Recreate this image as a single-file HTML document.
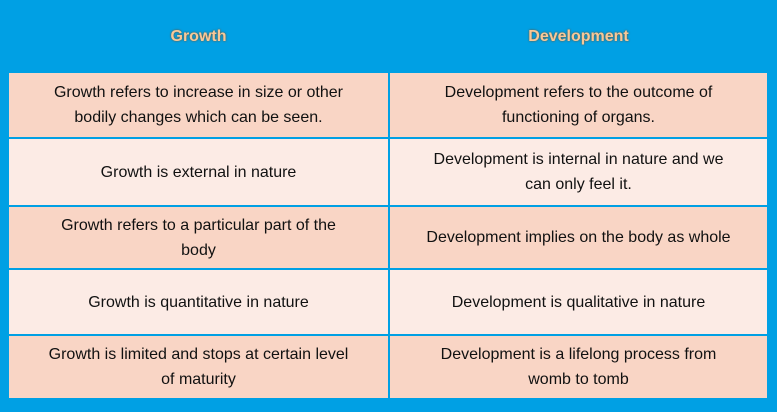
<!DOCTYPE html>
<html><head><meta charset="utf-8"><style>
body{margin:0;width:777px;height:412px;background:#00a0e4;font-family:"Liberation Sans",sans-serif;position:relative;overflow:hidden}
.h{position:absolute;top:28px;height:22px;font-weight:bold;font-size:16px;color:#f8c898;text-align:center;text-shadow:0 0 2px #7a4a20}
.c{position:absolute;display:flex;align-items:center;justify-content:center;text-align:center;font-size:16px;line-height:25px;color:#111;box-sizing:border-box;padding:0 4px;white-space:pre-line}
.o{background:#f9d5c5}.e{background:#fcebe5}
</style></head><body>
<div class="h" style="left:9px;width:379px">Growth</div>
<div class="h" style="left:390px;width:377px">Development</div>
<div id="rows"></div>
<script>
const growth=["Growth refers to increase in size or other\nbodily changes which can be seen.","Growth is external in nature","Growth refers to a particular part of the\nbody","Growth is quantitative in nature","Growth is limited and stops at certain level\nof maturity"];
const development=["Development refers to the outcome of\nfunctioning of organs.","Development is internal in nature and we\ncan only feel it.","Development implies on the body as whole","Development is qualitative in nature","Development is a lifelong process from\nwomb to tomb"];
const tops=[73,139,207,270,336],bots=[137,205,268,334,398];
const root=document.getElementById('rows');
growth.forEach((g,i)=>{
 [[g,9,379,'growth'],[development[i],390,377,'development']].forEach(([t,l,w,n])=>{
  const d=document.createElement('div');
  d.className='c '+(i%2?'e':'o');
  d.style.left=l+'px';d.style.width=w+'px';d.style.top=tops[i]+'px';d.style.height=(bots[i]-tops[i])+'px';
  d.textContent=t;
  
  
  root.appendChild(d);
 });
});
</script>
</body></html>
